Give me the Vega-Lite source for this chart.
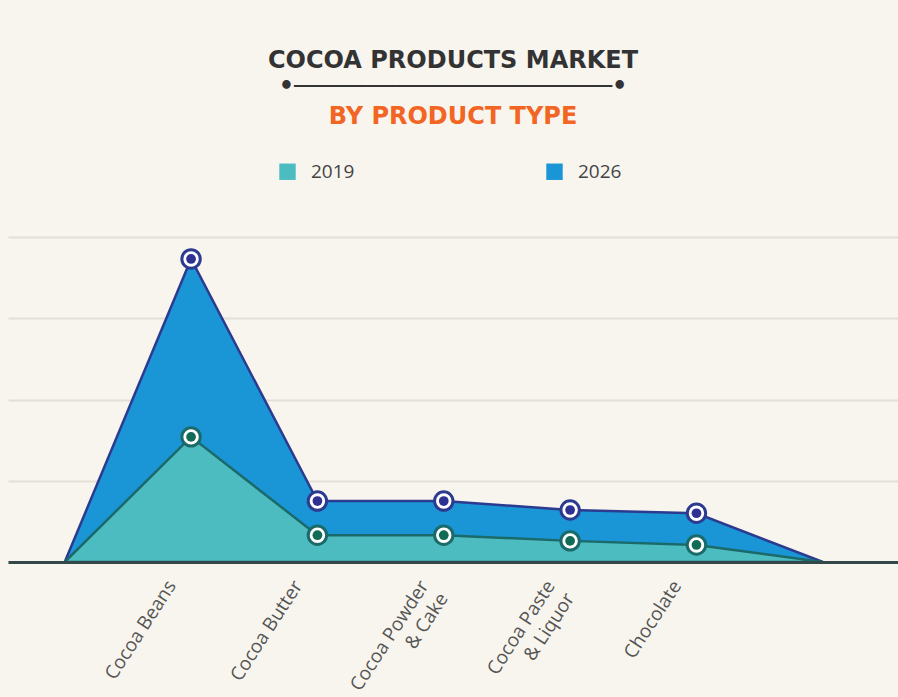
{
  "$schema": "https://vega.github.io/schema/vega-lite/v6.json",
  "width": 890,
  "height": 325,
  "autosize": {"type": "none"},
  "padding": {"top": 237, "left": 8, "right": 0, "bottom": 135},
  "background": "#f8f5ef",
  "config": {"view": {"stroke": null}},
  "title": {
    "text": ["COCOA PRODUCTS MARKET", "•──────────────────────•"],
    "subtitle": "BY PRODUCT TYPE",
    "anchor": "middle",
    "font": "DejaVu Sans",
    "fontSize": 24,
    "fontWeight": "bold",
    "color": "#333333",
    "lineHeight": 26,
    "subtitleFont": "DejaVu Sans",
    "subtitleFontSize": 24,
    "subtitleFontWeight": "bold",
    "subtitleColor": "#f26522",
    "subtitlePadding": 6,
    "offset": 33
  },
  "data": {
    "values": [
      {"product": "start", "year": "2019", "value": 0},
      {"product": "start", "year": "2026", "value": 0},
      {"product": "Cocoa Beans", "year": "2019", "value": 1.54},
      {"product": "Cocoa Beans", "year": "2026", "value": 3.73},
      {"product": "Cocoa Butter", "year": "2019", "value": 0.33},
      {"product": "Cocoa Butter", "year": "2026", "value": 0.75},
      {"product": "Cocoa Powder & Cake", "year": "2019", "value": 0.33},
      {"product": "Cocoa Powder & Cake", "year": "2026", "value": 0.75},
      {"product": "Cocoa Paste & Liquor", "year": "2019", "value": 0.26},
      {"product": "Cocoa Paste & Liquor", "year": "2026", "value": 0.64},
      {"product": "Chocolate", "year": "2019", "value": 0.21},
      {"product": "Chocolate", "year": "2026", "value": 0.6},
      {"product": "end", "year": "2019", "value": 0},
      {"product": "end", "year": "2026", "value": 0}
    ]
  },
  "encoding": {
    "x": {
      "field": "product",
      "type": "ordinal",
      "sort": null,
      "scale": {
        "type": "point",
        "domain": ["start", "Cocoa Beans", "Cocoa Butter", "Cocoa Powder & Cake", "Cocoa Paste & Liquor", "Chocolate", "end"],
        "padding": 0.522,
        "align": 0.43
      },
      "axis": {
        "title": null,
        "labelAngle": -57,
        "labelAlign": "right",
        "labelBaseline": "middle",
        "labelFont": "Open Sans",
        "labelFontSize": 19,
        "labelColor": "#555555",
        "labelPadding": 20,
        "labelOffset": -20,
        "labelLineHeight": 23,
        "labelExpr": "datum.label == 'start' || datum.label == 'end' ? '' : split(replace(datum.label, ' & ', '|& '), '|')",
        "ticks": false,
        "grid": false,
        "domainColor": "#34484a",
        "domainWidth": 3,
        "zindex": 1
      }
    },
    "y": {
      "field": "value",
      "type": "quantitative",
      "stack": null,
      "scale": {"domain": [0, 4], "nice": false},
      "axis": {
        "title": null,
        "values": [0, 1, 2, 3, 4],
        "labels": false,
        "ticks": false,
        "domain": false,
        "grid": true,
        "gridColor": "#e3ded6",
        "gridWidth": 2
      }
    }
  },
  "layer": [
    {
      "transform": [{"filter": "datum.year == '2026'"}],
      "mark": {"type": "area", "strokeWidth": 2.5, "opacity": 1},
      "encoding": {
        "color": {
          "field": "year",
          "type": "nominal",
          "scale": {"domain": ["2019", "2026"], "range": ["#4dbcc1", "#1a96d6"]},
          "legend": {
            "title": null,
            "orient": "none",
            "direction": "horizontal",
            "legendX": 270,
            "legendY": -75,
            "symbolType": "square",
            "symbolSize": 270,
            "symbolStrokeWidth": 0,
            "labelFont": "Open Sans",
            "labelFontSize": 19,
            "labelColor": "#444444",
            "labelOffset": 14,
            "columnPadding": 190
          }
        },
        "stroke": {
          "field": "year",
          "type": "nominal",
          "scale": {"domain": ["2019", "2026"], "range": ["#1b6a6a", "#2c3a8f"]},
          "legend": null
        }
      }
    },
    {
      "transform": [{"filter": "datum.year == '2019'"}],
      "mark": {"type": "area", "strokeWidth": 2.5, "opacity": 1},
      "encoding": {
        "color": {"field": "year", "type": "nominal"},
        "stroke": {"field": "year", "type": "nominal", "legend": null}
      }
    },
    {
      "transform": [{"filter": "datum.product != 'start' && datum.product != 'end'"}],
      "mark": {"type": "point", "filled": true, "fill": "#ffffff", "strokeWidth": 3, "size": 340, "opacity": 1},
      "encoding": {
        "stroke": {"field": "year", "type": "nominal", "legend": null}
      }
    },
    {
      "transform": [{"filter": "datum.product != 'start' && datum.product != 'end'"}],
      "mark": {"type": "point", "filled": true, "size": 95, "opacity": 1, "strokeWidth": 0},
      "encoding": {
        "fill": {
          "field": "year",
          "type": "nominal",
          "scale": {"domain": ["2019", "2026"], "range": ["#126b55", "#2e3192"]},
          "legend": null
        }
      }
    }
  ]
}
